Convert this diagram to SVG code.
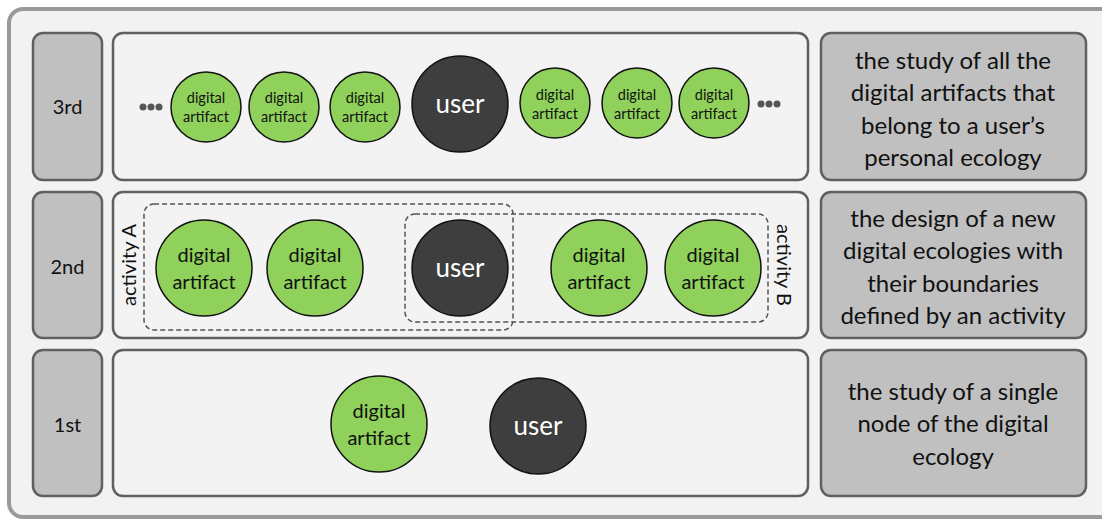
<svg xmlns="http://www.w3.org/2000/svg" width="1102" height="521" viewBox="0 0 1102 521">
<style>
.lbl{fill:#c0c0c0;stroke:#606060;stroke-width:2.5}
.mid{fill:#f3f3f3;stroke:#606060;stroke-width:2.5}
.desc{fill:#c0c0c0;stroke:#606060;stroke-width:2.5}
.da{fill:#8fd15a;stroke:#111;stroke-width:1.5}
.us{fill:#3e3e3e;stroke:#111;stroke-width:1.5}
text{font-family:Lato,"Open Sans","Liberation Sans",sans-serif;text-anchor:middle;fill:#111}
.t-lbl{font-size:20px}
.t-desc{font-size:24px}
.t-s{font-size:14.5px}
.t-m{font-size:20px}
.t-us{fill:#fff;font-size:26px}
.t-us2{fill:#fff;font-size:24px}
.dash{fill:none;stroke:#555;stroke-width:1.5;stroke-dasharray:5 3}
.dots{fill:#555}
</style>
<rect x="0" y="0" width="1102" height="521" fill="#fff"/>
<rect x="9" y="9" width="1110" height="508" rx="14" fill="#f2f2f2" stroke="#9a9a9a" stroke-width="4"/>

<g id="row3">
  <rect class="lbl" x="33" y="33" width="69" height="147" rx="10"/>
  <text class="t-lbl" x="67.5" y="114">3rd</text>
  <rect class="mid" x="113" y="33" width="695" height="147" rx="10"/>
  <rect class="desc" x="821" y="33" width="265" height="147" rx="10"/>
  <text class="t-desc" x="953" y="69">the study of all the</text>
  <text class="t-desc" x="953" y="101">digital artifacts that</text>
  <text class="t-desc" x="953" y="134">belong to a user’s</text>
  <text class="t-desc" x="953" y="166">personal ecology</text>
</g>
<g id="row3-nodes">
  <g class="dots"><circle cx="143" cy="107" r="3.5"/><circle cx="151" cy="107" r="3.5"/><circle cx="159" cy="107" r="3.5"/></g>
  <g id="r3-da1"><circle class="da" cx="206" cy="107" r="35"/><text class="t-s" x="206" y="103">digital</text><text class="t-s" x="206" y="122">artifact</text></g>
  <g id="r3-da2"><circle class="da" cx="284" cy="107" r="35"/><text class="t-s" x="284" y="103">digital</text><text class="t-s" x="284" y="122">artifact</text></g>
  <g id="r3-da3"><circle class="da" cx="365" cy="107" r="35"/><text class="t-s" x="365" y="103">digital</text><text class="t-s" x="365" y="122">artifact</text></g>
  <g id="r3-user"><circle class="us" cx="460" cy="104" r="48"/><text class="t-us" x="460" y="113">user</text></g>
  <g id="r3-da4"><circle class="da" cx="555" cy="103" r="35"/><text class="t-s" x="555" y="100">digital</text><text class="t-s" x="555" y="119">artifact</text></g>
  <g id="r3-da5"><circle class="da" cx="637" cy="103" r="35"/><text class="t-s" x="637" y="100">digital</text><text class="t-s" x="637" y="119">artifact</text></g>
  <g id="r3-da6"><circle class="da" cx="714" cy="103" r="35"/><text class="t-s" x="714" y="100">digital</text><text class="t-s" x="714" y="119">artifact</text></g>
  <g class="dots"><circle cx="761" cy="104" r="3.5"/><circle cx="769" cy="104" r="3.5"/><circle cx="777" cy="104" r="3.5"/></g>
</g>

<g id="row2">
  <rect class="lbl" x="33" y="192" width="69" height="146" rx="10"/>
  <text class="t-lbl" x="67.5" y="274">2nd</text>
  <rect class="mid" x="113" y="192" width="695" height="146" rx="10"/>
  <rect class="desc" x="821" y="192" width="265" height="146" rx="10"/>
  <text class="t-desc" x="953" y="227">the design of a new</text>
  <text class="t-desc" x="953" y="259">digital ecologies with</text>
  <text class="t-desc" x="953" y="292">their boundaries</text>
  <text class="t-desc" x="953" y="324">defined by an activity</text>
</g>
<g id="row2-groups">
  <rect id="activityA" class="dash" x="144" y="204" width="369" height="126" rx="10"/>
  <rect id="activityB" class="dash" x="405" y="214" width="363" height="108" rx="10"/>
  <text class="t-m" transform="translate(136 265) rotate(-90)">activity A</text>
  <text class="t-m" transform="translate(777 265) rotate(90)">activity B</text>
</g>
<g id="row2-nodes">
  <g id="r2-da1"><circle class="da" cx="204" cy="268" r="48"/><text class="t-m" x="204" y="262">digital</text><text class="t-m" x="204" y="289">artifact</text></g>
  <g id="r2-da2"><circle class="da" cx="315" cy="268" r="48"/><text class="t-m" x="315" y="262">digital</text><text class="t-m" x="315" y="289">artifact</text></g>
  <g id="r2-user"><circle class="us" cx="460" cy="268" r="48"/><text class="t-us" x="460" y="277">user</text></g>
  <g id="r2-da3"><circle class="da" cx="599" cy="268" r="48"/><text class="t-m" x="599" y="262">digital</text><text class="t-m" x="599" y="289">artifact</text></g>
  <g id="r2-da4"><circle class="da" cx="713" cy="268" r="48"/><text class="t-m" x="713" y="262">digital</text><text class="t-m" x="713" y="289">artifact</text></g>
</g>

<g id="row1">
  <rect class="lbl" x="33" y="350" width="69" height="146" rx="10"/>
  <text class="t-lbl" x="67.5" y="432">1st</text>
  <rect class="mid" x="113" y="350" width="695" height="146" rx="10"/>
  <rect class="desc" x="821" y="350" width="265" height="146" rx="10"/>
  <text class="t-desc" x="953" y="400">the study of a single</text>
  <text class="t-desc" x="953" y="432">node of the digital</text>
  <text class="t-desc" x="953" y="465">ecology</text>
</g>
<g id="row1-nodes">
  <g id="r1-da"><circle class="da" cx="379" cy="424" r="48"/><text class="t-m" x="379" y="418">digital</text><text class="t-m" x="379" y="445">artifact</text></g>
  <g id="r1-user"><circle class="us" cx="538" cy="426" r="48"/><text class="t-us" x="538" y="435">user</text></g>
</g>
<g id="connectors"/>
</svg>
